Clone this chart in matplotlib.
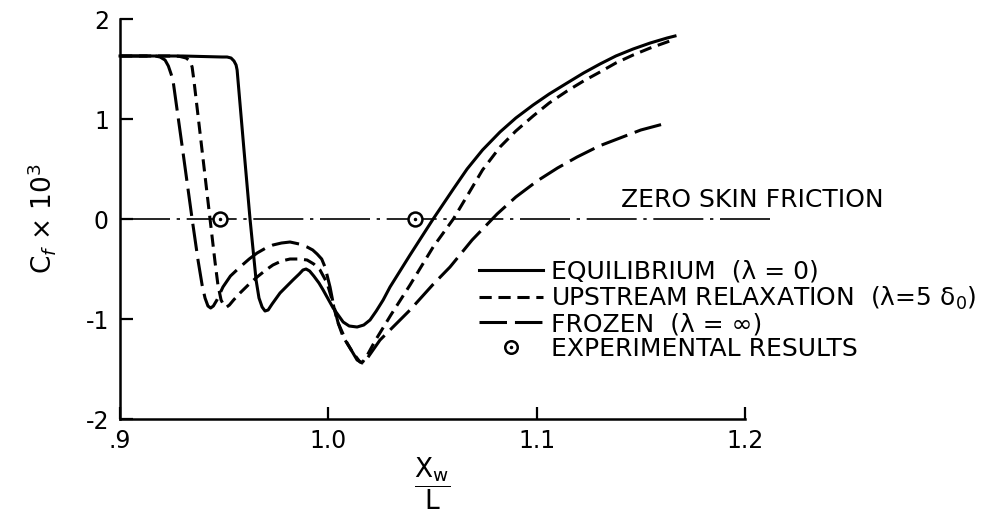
import numpy as np
import matplotlib.pyplot as plt
from matplotlib.legend_handler import HandlerTuple

plt.rcParams['font.family'] = 'DejaVu Sans'
plt.rcParams['mathtext.fontset'] = 'dejavusans'

# skin friction coefficient (Cf x 10^3) against x_w / L
x_eq = [0.900, 0.930, 0.9490, 0.9514, 0.9533, 0.9547, 0.9557, 0.9562, 0.9595,
        0.9624, 0.9653, 0.9667, 0.9682, 0.9696, 0.9711, 0.9730, 0.9768, 0.9830,
        0.9860, 0.9878, 0.9893, 0.9910, 0.9930, 0.9955, 0.9975, 1.0023, 1.0071,
        1.0100, 1.0138, 1.0170, 1.0200, 1.0230, 1.0263, 1.0296, 1.0392, 1.0503,
        1.0600, 1.0666, 1.0740, 1.0824, 1.0900, 1.0983, 1.1060, 1.1146, 1.1225,
        1.1304, 1.1380, 1.1463, 1.1545, 1.1626, 1.1664]
cf_eq = [1.63, 1.63, 1.62, 1.62, 1.61, 1.58, 1.54, 1.49, 0.69,
         0.00, -0.61, -0.79, -0.88, -0.92, -0.91, -0.85, -0.74, -0.61,
         -0.55, -0.51, -0.50, -0.52, -0.57, -0.64, -0.71, -0.89, -1.03,
         -1.07, -1.08, -1.06, -1.01, -0.92, -0.81, -0.68, -0.36, 0.00,
         0.30, 0.50, 0.69, 0.87, 1.01, 1.14, 1.25, 1.36, 1.46,
         1.55, 1.63, 1.70, 1.76, 1.81, 1.83]

x_up = [0.900, 0.9264, 0.9288, 0.9317, 0.9336, 0.9346, 0.9355, 0.9374, 0.9398,
        0.9432, 0.9456, 0.9470, 0.9485, 0.9500, 0.9512, 0.9525, 0.9545, 0.9576,
        0.9620, 0.9658, 0.9700, 0.9734, 0.9775, 0.9816, 0.9860, 0.9898, 0.9930,
        0.9960, 0.9994, 1.0018, 1.0042, 1.0071, 1.0119, 1.0152, 1.0165, 1.0190,
        1.0224, 1.0300, 1.0392, 1.0503, 1.0600, 1.0666, 1.0740, 1.0824, 1.0900,
        1.0983, 1.1060, 1.1146, 1.1225, 1.1304, 1.1380, 1.1463, 1.1545, 1.1626,
        1.1664]
cf_up = [1.63, 1.63, 1.625, 1.61, 1.58, 1.52, 1.38, 1.04, 0.61,
         0.00, -0.43, -0.66, -0.81, -0.87, -0.88, -0.86, -0.81, -0.74,
         -0.65, -0.58, -0.51, -0.46, -0.42, -0.40, -0.40, -0.41, -0.45,
         -0.51, -0.64, -0.81, -1.01, -1.18, -1.34, -1.43, -1.43, -1.35,
         -1.22, -0.96, -0.66, -0.28, 0.00, 0.23, 0.49, 0.72, 0.88,
         1.03, 1.16, 1.28, 1.38, 1.47, 1.56, 1.64, 1.71, 1.77,
         1.80]

x_fr = [0.900, 0.9168, 0.9192, 0.9216, 0.9232, 0.9245, 0.9254, 0.9300, 0.9346,
        0.9375, 0.9394, 0.9408, 0.9422, 0.9435, 0.9448, 0.9465, 0.9494, 0.9530,
        0.9576, 0.9620, 0.9658, 0.9700, 0.9734, 0.9775, 0.9816, 0.9860, 0.9898,
        0.9925, 0.9946, 0.9968, 0.9984, 1.0008, 1.0023, 1.0047, 1.0090, 1.0138,
        1.0162, 1.0181, 1.0248, 1.0320, 1.0392, 1.0500, 1.0584, 1.0690, 1.0810,
        1.0900, 1.1002, 1.1100, 1.1194, 1.1300, 1.1400, 1.1500, 1.1626]
cf_fr = [1.63, 1.63, 1.62, 1.59, 1.53, 1.45, 1.39, 0.70, 0.00,
         -0.42, -0.66, -0.79, -0.87, -0.89, -0.87, -0.81, -0.68, -0.57,
         -0.48, -0.40, -0.34, -0.29, -0.26, -0.24, -0.23, -0.25, -0.28,
         -0.31, -0.35, -0.40, -0.48, -0.68, -0.84, -1.04, -1.24, -1.41,
         -1.44, -1.41, -1.21, -1.06, -0.91, -0.66, -0.48, -0.21, 0.05,
         0.22, 0.38, 0.51, 0.62, 0.73, 0.81, 0.89, 0.96]

x_exp = [0.948, 1.0416]
cf_exp = [0.0, 0.0]

zero_x = [0.900, 1.212]
zero_y = [0.0, 0.0]

xticks = [0.9, 1.0, 1.1, 1.2]
xtick_labels = ['.9', '1.0', '1.1', '1.2']
yticks = [-2, -1, 0, 1, 2]
ytick_labels = ['-2', '-1', '0', '1', '2']

fig = plt.figure(figsize=(10.02, 5.22), dpi=100)
ax = fig.add_axes([0.1198, 0.1973, 0.6237, 0.7663])

lw = 2.2
style = dict(color='black', lw=lw, clip_on=False, solid_joinstyle='round',
             dash_joinstyle='round')
ax.plot(zero_x, zero_y, color='black', lw=1.2, dashes=(30, 4, 2, 4),
        clip_on=False, zorder=1)
l_eq, = ax.plot(x_eq, cf_eq, **style)
l_up, = ax.plot(x_up, cf_up, dashes=(4, 2.2), **style)
l_fr, = ax.plot(x_fr, cf_fr, dashes=(9, 2.6), **style)
ax.plot(x_exp, cf_exp, 'o', ms=10, mfc='white', mec='black', mew=1.8, zorder=4)
ax.plot(x_exp, cf_exp, '.', ms=3, color='black', zorder=5)
h_circ, = ax.plot([], [], 'o', ms=9, mfc='white', mec='black', mew=1.8)
h_dot, = ax.plot([], [], '.', ms=3, color='black')

ax.text(1.1405, 0.07, 'ZERO SKIN FRICTION', fontsize=18, ha='left',
        va='bottom')

ax.legend(handles=[l_eq, l_up, l_fr, (h_circ, h_dot)],
          labels=['EQUILIBRIUM  (λ = 0)', 'UPSTREAM RELAXATION  (λ=5 δ$_0$)',
                  'FROZEN  (λ = ∞)', 'EXPERIMENTAL RESULTS'],
          handler_map={tuple: HandlerTuple(ndivide=1)},
          loc='upper left', bbox_to_anchor=(0.575, 0.398), frameon=False,
          fontsize=18, handlelength=2.55, handletextpad=0.3,
          labelspacing=0.02, borderpad=0, borderaxespad=0)

ax.set_xlim(0.9, 1.2)
ax.set_ylim(-2, 2)
ax.set_xticks(xticks)
ax.set_xticklabels(xtick_labels)
ax.set_yticks(yticks)
ax.set_yticklabels(ytick_labels)
ax.tick_params(direction='in', length=9, width=1.6, labelsize=17)
ax.tick_params(axis='y', pad=8)
ax.tick_params(axis='x', pad=7)
for s in ['top', 'right']:
    ax.spines[s].set_visible(False)
for s in ['left', 'bottom']:
    ax.spines[s].set_linewidth(1.8)

ax.set_ylabel(r'C$_f$ × 10$^3$', fontsize=19, labelpad=20)
ax.set_xlabel(r'$\dfrac{\mathsf{X_w}}{\mathsf{L}}$', fontsize=19, labelpad=2)

fig.savefig('out.png', dpi=100)
